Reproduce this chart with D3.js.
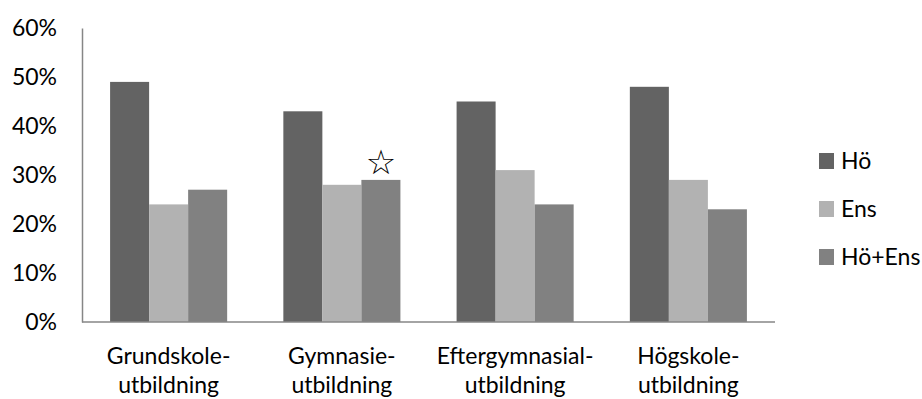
<!DOCTYPE html>
<html>
<head>
<meta charset="utf-8">
<script src="https://cdn.jsdelivr.net/npm/d3@7/dist/d3.min.js"></script>
<style>
  html, body { margin: 0; padding: 0; background: #fff; }
  svg { display: block; font-family: Lato, "Open Sans", sans-serif; }
</style>
</head>
<body>
<svg id="chart" width="922" height="399"></svg>
<script>
// Education level groups (two-line labels)
const categories = [
  ["Grundskole-", "utbildning"],
  ["Gymnasie-", "utbildning"],
  ["Eftergymnasial-", "utbildning"],
  ["Högskole-", "utbildning"]
];
const seriesNames = ["Hö", "Ens", "Hö+Ens"];
const hoValues = [0.49, 0.43, 0.45, 0.48];
const ensValues = [0.24, 0.28, 0.31, 0.29];
const hoEnsValues = [0.27, 0.29, 0.24, 0.23];
const yTicks = [0, 0.1, 0.2, 0.3, 0.4, 0.5, 0.6];
// Marker drawn above a single bar: [group index, series index]
const starred = [[1, 2]];

const seriesValues = [hoValues, ensValues, hoEnsValues];
const colors = ["#636363", "#b2b2b2", "#818181"];
const fontSize = 23;

const svg = d3.select("#chart");
const margin = { left: 82, right: 147, top: 28, bottom: 77 };
const W = 922, H = 399;

const x0 = d3.scaleBand()
  .domain(d3.range(categories.length))
  .range([margin.left, W - margin.right])
  .padding(0);
const x1 = d3.scaleBand()
  .domain(d3.range(seriesNames.length))
  .range([0, x0.bandwidth()])
  .paddingInner(0)
  .paddingOuter(0.72);
const y = d3.scaleLinear()
  .domain([0, 0.6])
  .range([H - margin.bottom, margin.top]);

// Bars
const groups = svg.append("g").selectAll("g")
  .data(categories.map((c, i) => i))
  .join("g")
  .attr("transform", i => `translate(${x0(i)},0)`);
groups.selectAll("rect")
  .data(i => seriesValues.map((vals, s) => ({ s, v: vals[i] })))
  .join("rect")
  .attr("x", d => x1(d.s))
  .attr("width", x1.bandwidth())
  .attr("y", d => y(d.v))
  .attr("height", d => y(0) - y(d.v))
  .attr("fill", d => colors[d.s]);

// Star marker
svg.append("g").selectAll("text")
  .data(starred)
  .join("text")
  .attr("x", d => x0(d[0]) + x1(d[1]) + x1.bandwidth() / 2)
  .attr("y", d => y(seriesValues[d[1]][d[0]]) - 6)
  .attr("text-anchor", "middle")
  .attr("font-family", "DejaVu Sans")
  .attr("font-size", 34)
  .attr("fill", "#000")
  .text("☆");

// Y axis
const yAxis = d3.axisLeft(y)
  .tickValues(yTicks)
  .tickFormat(d3.format(".0%"))
  .tickSize(0)
  .tickPadding(25);
const ya = svg.append("g")
  .attr("transform", `translate(${margin.left},0)`)
  .call(yAxis);
ya.select(".domain").attr("stroke", "#868686").attr("stroke-width", 1.5);
ya.selectAll("text")
  .attr("font-family", "Lato, 'Open Sans', sans-serif")
  .attr("font-size", fontSize)
  .attr("fill", "#000");

// X baseline
svg.append("line")
  .attr("x1", margin.left).attr("x2", W - margin.right)
  .attr("y1", y(0)).attr("y2", y(0))
  .attr("stroke", "#868686").attr("stroke-width", 1.5);

// Category labels
const xl = svg.append("g").selectAll("text")
  .data(categories)
  .join("text")
  .attr("x", (d, i) => x0(i) + x0.bandwidth() / 2)
  .attr("y", y(0) + 42)
  .attr("text-anchor", "middle")
  .attr("font-size", fontSize)
  .attr("fill", "#000");
xl.selectAll("tspan")
  .data(d => d)
  .join("tspan")
  .attr("x", function () { return this.parentNode.getAttribute("x"); })
  .attr("dy", (d, i) => i === 0 ? 0 : 29)
  .text(d => d);

// Legend
const legend = svg.append("g").attr("transform", "translate(819,0)");
const legendBase = [169, 217, 265];
seriesNames.forEach((name, i) => {
  legend.append("rect")
    .attr("x", 0).attr("y", legendBase[i] - 16)
    .attr("width", 15).attr("height", 16)
    .attr("fill", colors[i]);
  legend.append("text")
    .attr("x", 22).attr("y", legendBase[i])
    .attr("font-size", fontSize)
    .attr("fill", "#000")
    .text(name);
});
</script>
</body>
</html>
